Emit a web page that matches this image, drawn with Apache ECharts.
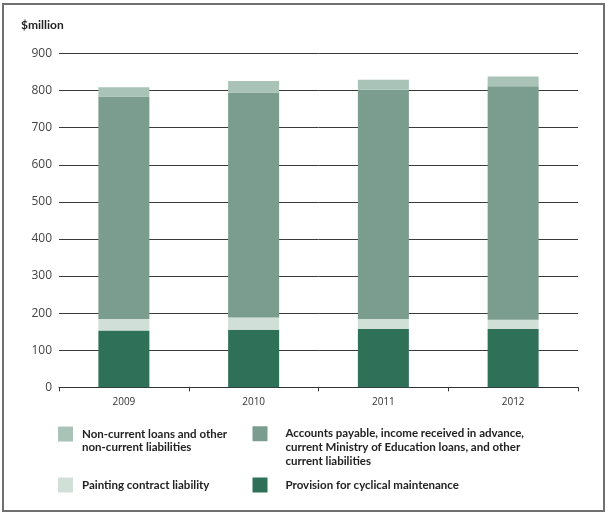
<!DOCTYPE html>
<html>
<head>
<meta charset="utf-8">
<script src="https://cdn.jsdelivr.net/npm/echarts@6/dist/echarts.min.js"></script>
<style>
  * { margin: 0; padding: 0; }
  body { background: #fff; }
  #chart { width: 610px; height: 517px; }
</style>
</head>
<body>
<div id="chart"></div>
<script>
// data ($million)
var years = ['2009', '2010', '2011', '2012'];
var maintenance = [153, 155, 157, 157];
var painting = [31, 33, 27, 25];
var accounts = [600, 607, 618, 630];
var nonCurrent = [25, 31, 27, 26];

var names = [
  'Non-current loans and other\nnon-current liabilities',
  'Accounts payable, income received in advance,\ncurrent Ministry of Education loans, and other\ncurrent liabilities',
  'Painting contract liability',
  'Provision for cyclical maintenance'
];
var colors = ['#a9c3b8', '#7a9d8f', '#d0dfd8', '#2f7058'];

var myChart = echarts.init(document.getElementById('chart'));

// legend text is centred on the icon, so pad the top with blank lines
// to keep the first line beside the icon
function legendItem(idx, left, top, gap) {
  var extra = names[idx].split('\n').length - 1;
  var pad = new Array(extra + 1).join('\n');
  return {
    data: [names[idx]],
    left: left,
    top: top - extra * 14,
    padding: 0,
    icon: 'rect',
    itemWidth: 15,
    itemHeight: 15,
    selectedMode: false,
    formatter: function (n) { return pad + n; },
    textStyle: {
      fontFamily: 'Lato',
      fontWeight: 'bold',
      fontSize: 11.5,
      color: '#222',
      lineHeight: 13.7,
      padding: [0, 0, 0, gap]
    }
  };
}

myChart.setOption({
  animation: false,
  textStyle: { fontFamily: 'Open Sans' },
  graphic: [{
    type: 'rect',
    shape: { x: 3, y: 4, width: 601, height: 507 },
    style: { fill: 'none', stroke: '#707070', lineWidth: 2 }
  }, {
    type: 'text',
    left: 21,
    top: 19,
    style: { text: '$million', font: 'bold 12px Lato', fill: '#222' }
  }],
  grid: { left: 59, right: 32, top: 53.5, bottom: 129.7 },
  legend: [
    legendItem(0, 58, 427.5, 4),
    legendItem(1, 252.5, 427.5, 13),
    legendItem(2, 58, 477.5, 4),
    legendItem(3, 252.5, 477.5, 13)
  ],
  xAxis: {
    type: 'category',
    data: years,
    axisLine: { lineStyle: { color: '#333', width: 1 } },
    axisTick: { show: true, length: 4, lineStyle: { color: '#333' } },
    axisLabel: { color: '#333', fontSize: 10, margin: 10 }
  },
  yAxis: {
    type: 'value',
    min: 0,
    max: 900,
    interval: 100,
    axisLine: { show: false },
    axisTick: { show: false },
    axisLabel: { color: '#444', fontSize: 12, margin: 7, padding: [0, 0, 7, 0] },
    splitLine: { lineStyle: { color: '#3a3a3a', width: 1 } }
  },
  series: [
    { name: names[3], type: 'bar', stack: 'total', barWidth: 51, data: maintenance, itemStyle: { color: colors[3] } },
    { name: names[2], type: 'bar', stack: 'total', barWidth: 51, data: painting, itemStyle: { color: colors[2] } },
    { name: names[1], type: 'bar', stack: 'total', barWidth: 51, data: accounts, itemStyle: { color: colors[1] } },
    { name: names[0], type: 'bar', stack: 'total', barWidth: 51, data: nonCurrent, itemStyle: { color: colors[0] } }
  ]
});
</script>
</body>
</html>
